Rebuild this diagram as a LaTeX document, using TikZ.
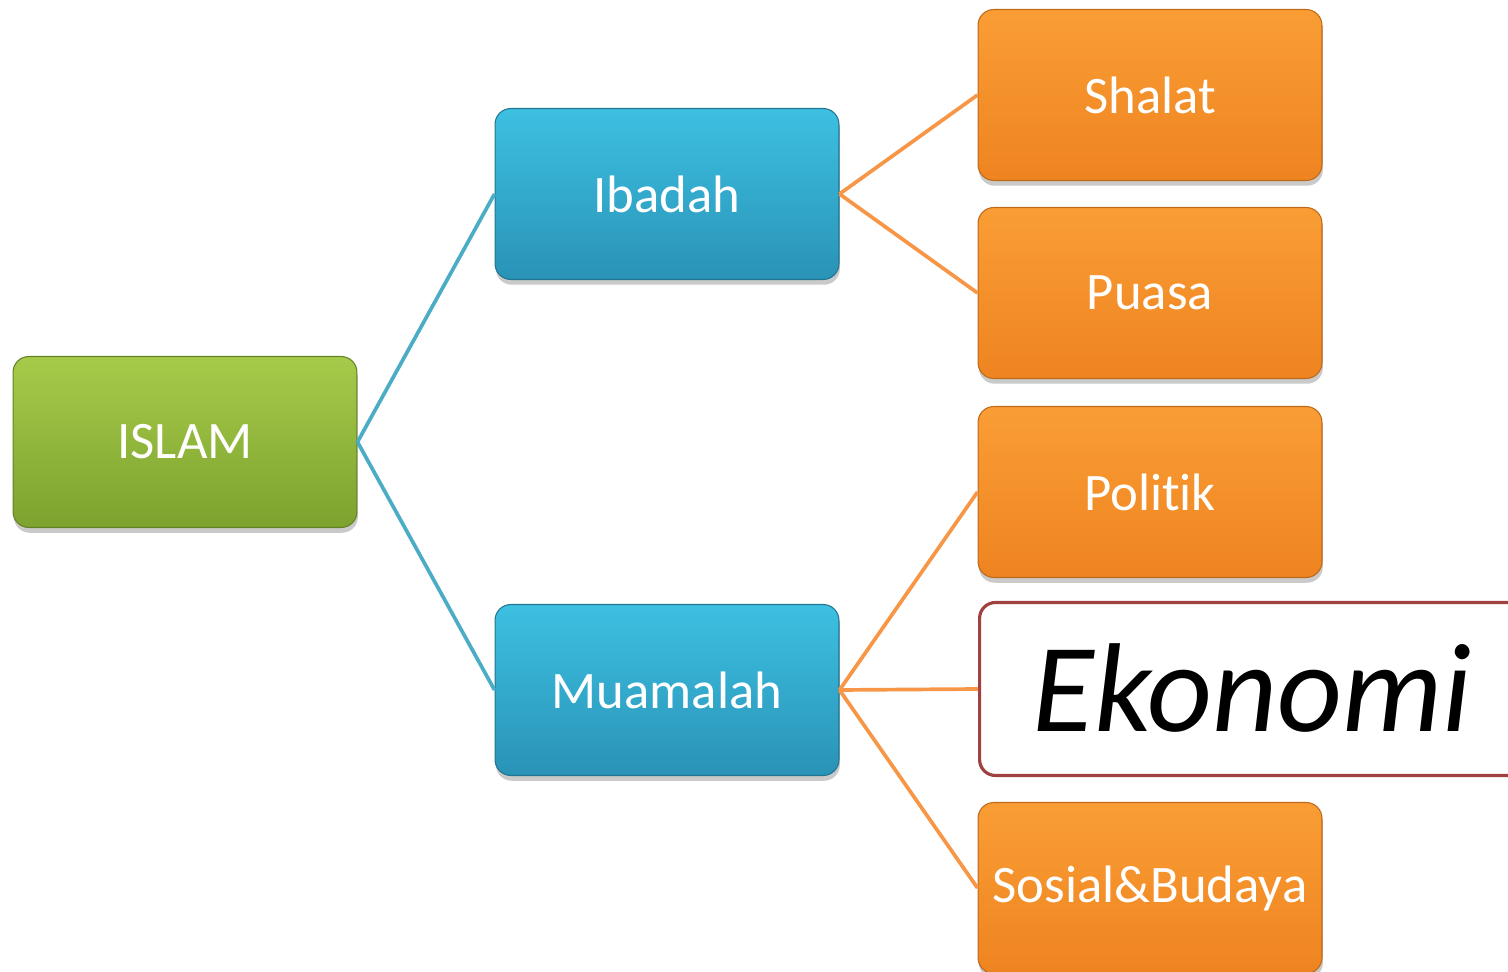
\documentclass[tikz,border=0pt]{standalone}
\usepackage{fontspec}
\setmainfont{Carlito}[Ligatures=NoCommon]
\usetikzlibrary{shadows}
\definecolor{gtop}{HTML}{A6CB4A}
\definecolor{gbot}{HTML}{7DA22E}
\definecolor{btop}{HTML}{3DC0E2}
\definecolor{bbot}{HTML}{2993B6}
\definecolor{otop}{HTML}{FA9D35}
\definecolor{obot}{HTML}{EE8420}
\definecolor{bline}{HTML}{4BACC6}
\definecolor{oline}{HTML}{F79646}
\definecolor{ered}{HTML}{A0403F}
\tikzset{
  box/.style={rounded corners=9pt, minimum width=6.88cm, minimum height=3.42cm, inner sep=0pt,
    text=white, font=\fontsize{30}{36}\selectfont,
    drop shadow={shadow xshift=0.5pt, shadow yshift=-3pt, opacity=0.35, fill=black!60}},
  greenbox/.style={box, top color=gtop, bottom color=gbot, draw=gbot!80!black, line width=0.6pt},
  bluebox/.style={box, top color=btop, bottom color=bbot, draw=bbot!80!black, line width=0.6pt},
  orangebox/.style={box, top color=otop, bottom color=obot, draw=obot!80!black, line width=0.6pt},
  ekobox/.style={rounded corners=9pt, minimum width=10.9cm, minimum height=3.46cm, inner sep=0pt,
    fill=white, draw=ered, line width=1.8pt, text=black, font=\fontsize{72}{80}\selectfont\itshape},
  bconn/.style={draw=bline, line width=2.1pt},
  oconn/.style={draw=oline, line width=2.1pt}
}
\begin{document}
\begin{tikzpicture}[x=0.02cm,y=-0.02cm]
\useasboundingbox (0,0) rectangle (1508,972);
\node[greenbox] (islam) at (185,442) {ISLAM};
\node[bluebox] (ibadah) at (667,194) {Ibadah};
\node[bluebox] (muamalah) at (667,690) {Muamalah};
\node[orangebox] (shalat) at (1150,95) {Shalat};
\node[orangebox] (puasa) at (1150,293) {Puasa};
\node[orangebox] (politik) at (1150,492) {Politik};
\node[ekobox, anchor=west] (ekonomi) at (978,689) {\raisebox{0.05cm}{Ekonomi}};
\node[orangebox] (sosial) at (1150,888) {\hspace*{-1cm}Sosial\&Budaya\hspace*{-1cm}};
\draw[bconn] (islam.east) -- (ibadah.west);
\draw[bconn] (islam.east) -- (muamalah.west);
\draw[oconn] (ibadah.east) -- (shalat.west);
\draw[oconn] (ibadah.east) -- (puasa.west);
\draw[oconn] (muamalah.east) -- (politik.west);
\draw[oconn] (muamalah.east) -- (ekonomi.west);
\draw[oconn] (muamalah.east) -- (sosial.west);
\end{tikzpicture}
\end{document}
